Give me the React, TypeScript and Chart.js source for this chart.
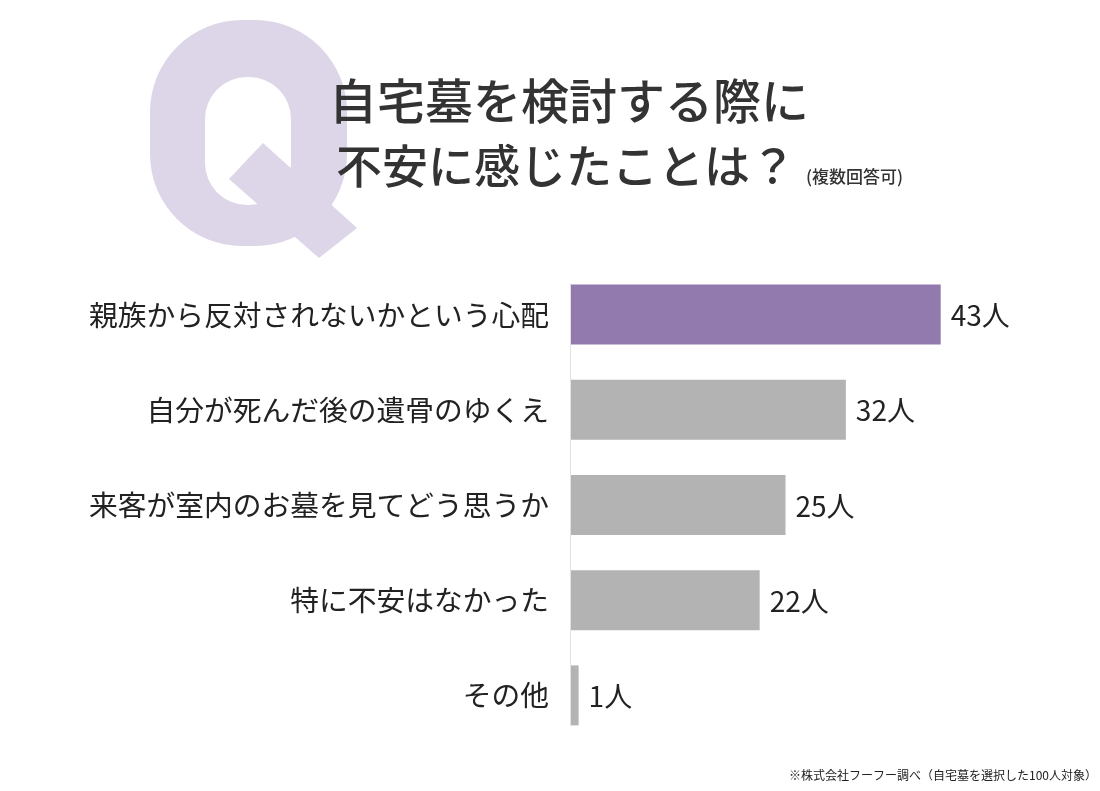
import React, { useEffect, useRef } from "react";
import { Chart, registerables } from "chart.js";

Chart.register(...registerables);

const categories = [
  "親族から反対されないかという心配",
  "自分が死んだ後の遺骨のゆくえ",
  "来客が室内のお墓を見てどう思うか",
  "特に不安はなかった",
  "その他",
];
const values = [43, 32, 25, 22, 1];
const unit = "人";
const titleLine1 = "自宅墓を検討する際に";
const titleLine2 = "不安に感じたことは？";
const titleNote = "(複数回答可)";
const footnote = "※株式会社フーフー調べ（自宅墓を選択した100人対象）";

const PURPLE = "#927aae";
const GRAY = "#b3b3b3";
const Q_COLOR = "#dcd6e8";
const FONT = '"Noto Sans CJK JP", "Noto Sans", sans-serif';

const decorPlugin = {
  id: "decor",
  beforeDraw(chart: any) {
    const ctx = chart.ctx;
    ctx.save();
    ctx.fillStyle = "#ffffff";
    ctx.fillRect(0, 0, chart.width, chart.height);
    // Big "Q" decoration (ring + diagonal tail)
    ctx.fillStyle = Q_COLOR;
    ctx.beginPath();
    ctx.roundRect(150, 20, 197, 226, [92, 92, 92, 92]);
    ctx.roundRect(205, 77, 86, 128, [42, 42, 42, 42]);
    ctx.fill("evenodd");
    ctx.beginPath();
    ctx.moveTo(263, 143);
    ctx.lineTo(357, 228);
    ctx.lineTo(319, 258);
    ctx.lineTo(229, 179);
    ctx.closePath();
    ctx.fill();
    // Title
    ctx.fillStyle = "#333333";
    ctx.textBaseline = "middle";
    ctx.textAlign = "left";
    ctx.font = `500 48px ${FONT}`;
    ctx.fillText(titleLine1, 329, 101);
    ctx.font = `500 46px ${FONT}`;
    ctx.fillText(titleLine2, 336, 166);
    ctx.font = `500 17px ${FONT}`;
    ctx.fillText(titleNote, 806, 177);
    // Footnote
    ctx.font = `400 12px ${FONT}`;
    ctx.textAlign = "right";
    ctx.fillStyle = "#222222";
    ctx.fillText(footnote, 1097, 775);
    ctx.restore();
  },
  afterDatasetsDraw(chart: any) {
    const ctx = chart.ctx;
    const meta = chart.getDatasetMeta(0);
    const ds = chart.data.datasets[0];
    ctx.save();
    const first = meta.data[0];
    const last = meta.data[meta.data.length - 1];
    const left = chart.chartArea.left;
    ctx.strokeStyle = "#e2e2e2";
    ctx.lineWidth = 1;
    ctx.beginPath();
    ctx.moveTo(left + 0.5, first.y - first.height / 2);
    ctx.lineTo(left + 0.5, last.y + last.height / 2);
    ctx.stroke();
    ctx.fillStyle = "#222222";
    ctx.font = `400 28px ${FONT}`;
    ctx.textAlign = "left";
    ctx.textBaseline = "middle";
    meta.data.forEach((bar: any, i: number) => {
      ctx.fillText(`${ds.data[i]}${unit}`, bar.x + 10, bar.y + 1);
    });
    ctx.restore();
  },
};

export default function App() {
  const ref = useRef<HTMLCanvasElement>(null);
  useEffect(() => {
    document.body.style.margin = "0";
    const chart = new Chart(ref.current!, {
      type: "bar",
      data: {
        labels: categories,
        datasets: [
          {
            data: values,
            backgroundColor: values.map((_, i) => (i === 0 ? PURPLE : GRAY)),
            borderWidth: 0,
            categoryPercentage: 1,
            barPercentage: 0.63,
          },
        ],
      },
      options: {
        animation: false,
        responsive: false,
        indexAxis: "y",
        layout: { padding: { top: 267, bottom: 48, left: 0, right: 30 } },
        plugins: {
          legend: { display: false },
          tooltip: { enabled: false },
          title: { display: false },
        },
        scales: {
          x: { display: false, min: 0, max: 58 },
          y: {
            afterFit(scale: any) {
              scale.width = 570;
            },
            grid: { display: false, drawTicks: false },
            border: { display: false },
            ticks: {
              color: "#222222",
              padding: 21,
              font: { family: FONT, size: 28.75, weight: "400" as any },
            },
          },
        },
      },
      plugins: [decorPlugin],
    });
    return () => chart.destroy();
  }, []);
  return <canvas ref={ref} width={1100} height={791} style={{ display: "block" }} />;
}
